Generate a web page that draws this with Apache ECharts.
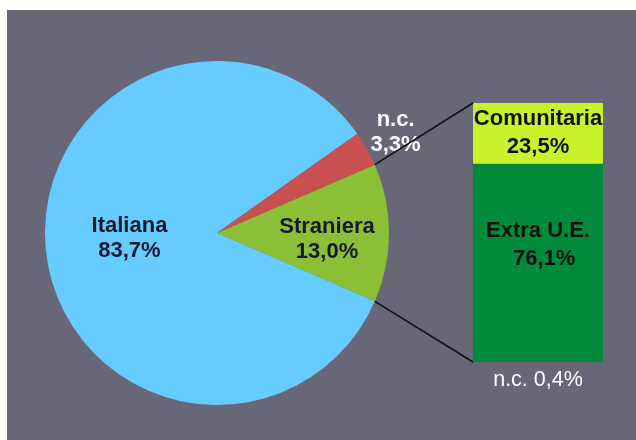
<!DOCTYPE html>
<html>
<head>
<meta charset="utf-8">
<script src="https://cdn.jsdelivr.net/npm/echarts@6/dist/echarts.min.js"></script>
<style>
  html, body { margin: 0; padding: 0; background: #ffffff; }
  #panel { position: absolute; left: 7px; top: 10px; width: 629px; height: 430px; background: #676777; }
  #chart { position: absolute; left: 0; top: 0; width: 636px; height: 440px; }
</style>
</head>
<body>
<div id="panel"></div>
<div id="chart"></div>
<script>
  // torta: cittadinanza
  const sliceNames = ['Straniera', 'Italiana', 'n.c.'];
  const sliceValues = [13.0, 83.7, 3.3];
  const sliceColors = ['#8abf36', '#66ccff', '#c95050'];

  // barra: dettaglio stranieri (dal basso verso l'alto)
  const barNames = ['n.c.', 'Extra U.E.', 'Comunitaria'];
  const barValues = [0.4, 76.1, 23.5];
  const barColors = ['#008a3a', '#008a3a', '#c8f22c'];

  const fmt = v => v.toFixed(1).replace('.', ',') + '%';

  const pieCenter = [217, 233];
  const pieRadius = 172;
  const startAngle = 23.4;
  const gridBox = { left: 473, top: 103, width: 130, height: 259 };
  const yMax = 100;

  // piccoli spostamenti delle etichette della torta
  const pieLabelShift = [[21, 6], [1, -4], [101, -57]];

  const barSeries = barNames.map((name, i) => ({
    name: name,
    type: 'bar',
    stack: 'tot',
    barWidth: '100%',
    data: [barValues[i]],
    itemStyle: { color: barColors[i] },
    label: i === 0 ? {
      show: true, position: 'bottom', distance: 7,
      formatter: () => 'n.c. ' + fmt(barValues[i]),
      color: '#ffffff', fontSize: 21.5, fontFamily: 'Liberation Sans'
    } : {
      show: true, position: 'inside',
      offset: i === 1 ? [0, -17] : [0, 0],
      formatter: () => i === 1 ? name + '\n  ' + fmt(barValues[i]) : name + '\n' + fmt(barValues[i]),
      color: '#111111', fontSize: 22, fontWeight: 'bold', lineHeight: 28,
      fontFamily: 'Liberation Sans'
    }
  }));

  // linee di collegamento: dai bordi della fetta "Straniera" agli angoli della barra
  const total = sliceValues.reduce((a, b) => a + b, 0);
  const barTotal = barValues.reduce((a, b) => a + b, 0);
  const a1 = startAngle * Math.PI / 180;
  const a2 = (startAngle - 360 * sliceValues[0] / total) * Math.PI / 180;
  const edge = a => [pieCenter[0] + pieRadius * Math.cos(a), pieCenter[1] - pieRadius * Math.sin(a)];
  const yPix = v => gridBox.top + gridBox.height * (1 - v / yMax);
  const p1 = edge(a1), p2 = edge(a2);

  const chart = echarts.init(document.getElementById('chart'));
  chart.setOption({
    animation: false,
    backgroundColor: 'transparent',
    grid: gridBox,
    xAxis: { type: 'category', data: ['stranieri'], show: false },
    yAxis: { type: 'value', min: 0, max: yMax, show: false },
    graphic: [
      { type: 'line', shape: { x1: p1[0], y1: p1[1], x2: gridBox.left, y2: yPix(barTotal) }, style: { stroke: '#111111', lineWidth: 1.6 }, z: 100 },
      { type: 'line', shape: { x1: p2[0], y1: p2[1], x2: gridBox.left, y2: yPix(0) }, style: { stroke: '#111111', lineWidth: 1.6 }, z: 100 }
    ],
    series: [{
      type: 'pie',
      center: pieCenter,
      radius: pieRadius,
      startAngle: startAngle,
      clockwise: true,
      data: sliceNames.map((n, i) => ({
        name: n, value: sliceValues[i],
        itemStyle: { color: sliceColors[i] },
        label: { color: i === 2 ? '#ffffff' : '#14192e' }
      })),
      label: {
        show: true, position: 'inside',
        formatter: p => p.name + '\n' + fmt(p.value),
        fontSize: 22, fontWeight: 'bold', lineHeight: 25,
        fontFamily: 'Liberation Sans'
      },
      labelLayout: p => ({ dx: pieLabelShift[p.dataIndex][0], dy: pieLabelShift[p.dataIndex][1] }),
      labelLine: { show: false }
    }].concat(barSeries)
  });
</script>
</body>
</html>
